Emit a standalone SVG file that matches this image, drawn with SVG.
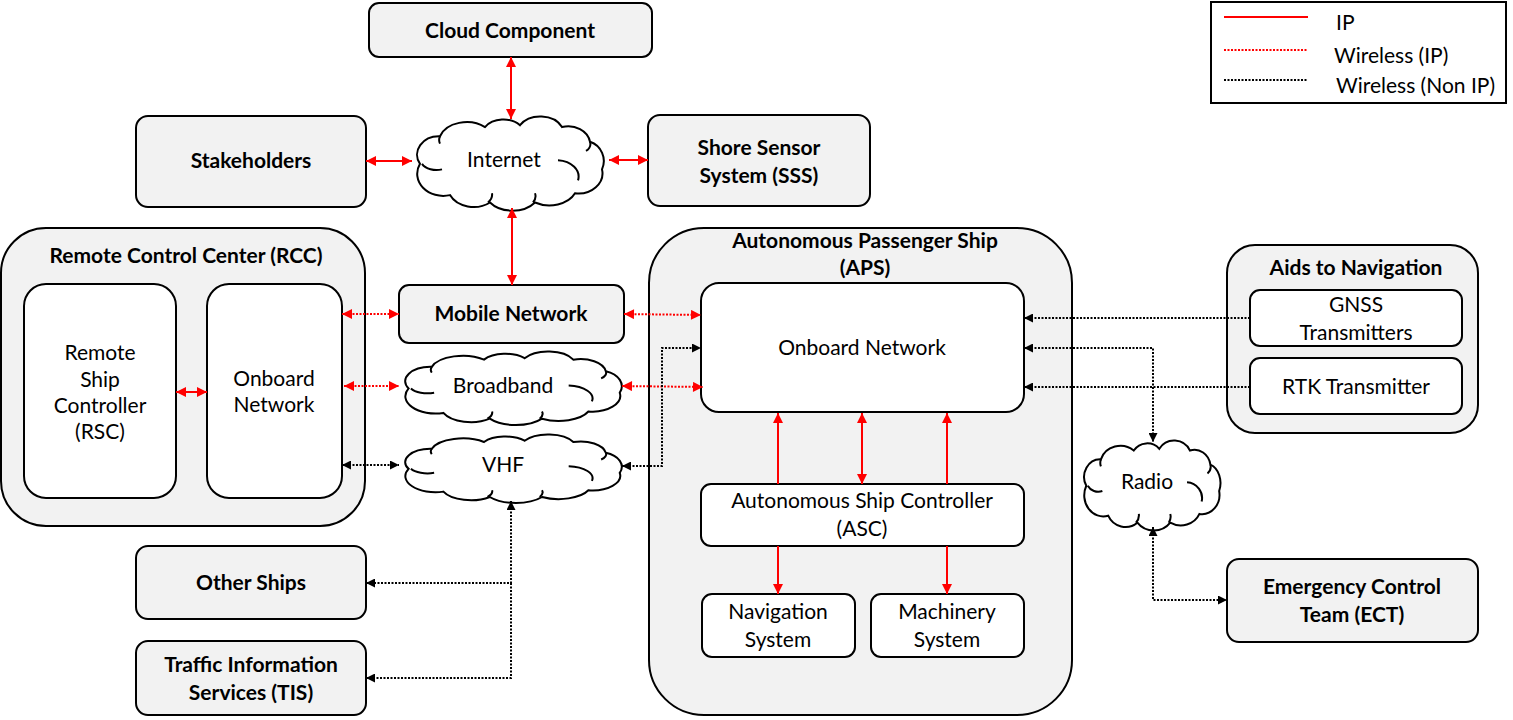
<svg xmlns="http://www.w3.org/2000/svg" xmlns:xlink="http://www.w3.org/1999/xlink" width="1513" height="720" viewBox="0 0 1513 720">
<style>
text { font-family: Lato, "Open Sans", "Liberation Sans", sans-serif; font-size: 21px; fill: #000; text-anchor: middle; }
.b { font-weight: bold; }
.lg { text-anchor: start; }
.outer { fill: #f2f2f2; stroke: #000; stroke-width: 2; }
.inner { fill: #fff; stroke: #000; stroke-width: 2; }
.cl { fill: #fff; stroke: #000; stroke-width: 2; }
.ip { fill: none; stroke: #ff0000; stroke-width: 2; }
.wip { fill: none; stroke: #ff0000; stroke-width: 2; stroke-dasharray: 2 1.5; }
.wn { fill: none; stroke: #000; stroke-width: 2; stroke-dasharray: 2 1.5; }
</style>
<defs>
<marker id="ar" viewBox="0 0 10 10" refX="10" refY="5" markerWidth="11" markerHeight="10" markerUnits="userSpaceOnUse" orient="auto-start-reverse">
<path d="M0,0 L10,5 L0,10 Z" fill="#ff0000"/>
</marker>
<marker id="ak" viewBox="0 0 10 10" refX="10" refY="5" markerWidth="10" markerHeight="9" markerUnits="userSpaceOnUse" orient="auto-start-reverse">
<path d="M0,0 L10,5 L0,10 Z" fill="#000"/>
</marker>
<g id="cloud">
<path vector-effect="non-scaling-stroke" d="M 10,52 A 22 20 0 0 1 30,22 A 28 22 0 0 1 75,12 A 22 18 0 0 1 110,10 A 24 20 0 0 1 152,12 A 22 20 0 0 1 180,28 A 20 22 0 0 1 192,58 A 24 22 0 0 1 165,84 A 28 22 0 0 1 125,94 A 28 22 0 0 1 80,94 A 26 22 0 0 1 40,86 A 26 24 0 0 1 10,52 Z"/>
<path vector-effect="non-scaling-stroke" fill="none" d="M 12,52 A 16 12 0 0 0 32,58 M 148,48 A 22 18 0 0 1 168,70 M 78,94 A 20 14 0 0 0 82,84 M 123,94 A 20 14 0 0 0 125,84 M 30,22 A 10 10 0 0 0 30,30 M 180,28 A 12 10 0 0 1 176,38"/>
</g>
</defs>

<g id="legend">
<rect x="1211" y="2" width="295" height="101" fill="#fff" stroke="#000" stroke-width="2"/>
<line class="ip" x1="1224" y1="17" x2="1308" y2="17"/>
<line class="wip" x1="1224" y1="50" x2="1308" y2="50"/>
<line class="wn" x1="1224" y1="80" x2="1308" y2="80"/>
<text class="lg" x="1336" y="30">IP</text>
<text class="lg" x="1334" y="63">Wireless (IP)</text>
<text class="lg" x="1336" y="93">Wireless (Non IP)</text>
</g>

<g id="cloud-component">
<rect class="outer" x="369" y="3" width="283" height="54" rx="10"/>
<text class="b" x="510" y="38">Cloud Component</text>
</g>
<g id="stakeholders">
<rect class="outer" x="136" y="116" width="230" height="91" rx="12"/>
<text class="b" x="251" y="168">Stakeholders</text>
</g>
<g id="sss">
<rect class="outer" x="648" y="115" width="222" height="91" rx="12"/>
<text class="b" x="759" y="155">Shore Sensor</text>
<text class="b" x="759" y="183">System (SSS)</text>
</g>
<g id="internet">
<use href="#cloud" class="cl" transform="translate(410,116) scale(1.0,0.92)"/>
<text x="504" y="167">Internet</text>
</g>
<g id="mobile-network">
<rect class="outer" x="399" y="285" width="225" height="58" rx="10"/>
<text class="b" x="511" y="321">Mobile Network</text>
</g>
<g id="broadband">
<use href="#cloud" class="cl" transform="translate(397,351) scale(1.16,0.72)"/>
<text x="503" y="393">Broadband</text>
</g>
<g id="vhf">
<use href="#cloud" class="cl" transform="translate(397,434) scale(1.16,0.67)"/>
<text x="503" y="472">VHF</text>
</g>

<g id="rcc">
<rect class="outer" x="1" y="228" width="364" height="298" rx="45"/>
<text class="b" x="186" y="263">Remote Control Center (RCC)</text>
</g>
<g id="rsc">
<rect class="inner" x="24" y="284" width="152" height="214" rx="22"/>
<text x="100" y="360">Remote</text>
<text x="100" y="387">Ship</text>
<text x="100" y="413">Controller</text>
<text x="100" y="439">(RSC)</text>
</g>
<g id="rcc-onboard">
<rect class="inner" x="207" y="284" width="135" height="214" rx="22"/>
<text x="274" y="386">Onboard</text>
<text x="274" y="412">Network</text>
</g>

<g id="aps">
<rect class="outer" x="649" y="228" width="423" height="487" rx="55"/>
<text class="b" x="865" y="248">Autonomous Passenger Ship</text>
<text class="b" x="865" y="275">(APS)</text>
</g>
<g id="aps-onboard">
<rect class="inner" x="701" y="283" width="323" height="129" rx="18"/>
<text x="862" y="355">Onboard Network</text>
</g>
<g id="asc">
<rect class="inner" x="701" y="484" width="323" height="62" rx="10"/>
<text x="862" y="508">Autonomous Ship Controller</text>
<text x="862" y="536">(ASC)</text>
</g>
<g id="navigation">
<rect class="inner" x="702" y="594" width="153" height="63" rx="10"/>
<text x="778" y="619">Navigation</text>
<text x="778" y="647">System</text>
</g>
<g id="machinery">
<rect class="inner" x="871" y="594" width="153" height="63" rx="10"/>
<text x="947" y="619">Machinery</text>
<text x="947" y="647">System</text>
</g>

<g id="aids">
<rect class="outer" x="1227" y="245" width="251" height="188" rx="28"/>
<text class="b" x="1356" y="275">Aids to Navigation</text>
</g>
<g id="gnss">
<rect class="inner" x="1250" y="290" width="212" height="56" rx="10"/>
<text x="1356" y="312">GNSS</text>
<text x="1356" y="340">Transmitters</text>
</g>
<g id="rtk">
<rect class="inner" x="1250" y="358" width="212" height="56" rx="10"/>
<text x="1356" y="394">RTK Transmitter</text>
</g>
<g id="radio">
<use href="#cloud" class="cl" transform="translate(1079,440) scale(0.73,0.88)"/>
<text x="1147" y="489">Radio</text>
</g>
<g id="ect">
<rect class="outer" x="1227" y="559" width="251" height="83" rx="12"/>
<text class="b" x="1352" y="594">Emergency Control</text>
<text class="b" x="1352" y="622">Team (ECT)</text>
</g>
<g id="other-ships">
<rect class="outer" x="136" y="546" width="230" height="73" rx="12"/>
<text class="b" x="251" y="590">Other Ships</text>
</g>
<g id="tis">
<rect class="outer" x="136" y="641" width="230" height="74" rx="12"/>
<text class="b" x="251" y="672">Traffic Information</text>
<text class="b" x="251" y="700">Services (TIS)</text>
</g>

<g id="connectors">
<line class="ip" x1="511" y1="57" x2="511" y2="119" marker-start="url(#ar)" marker-end="url(#ar)"/>
<line class="ip" x1="366" y1="161" x2="412" y2="161" marker-start="url(#ar)" marker-end="url(#ar)"/>
<line class="ip" x1="609" y1="160" x2="648" y2="160" marker-start="url(#ar)" marker-end="url(#ar)"/>
<line class="ip" x1="512" y1="208" x2="512" y2="285" marker-start="url(#ar)" marker-end="url(#ar)"/>
<line class="ip" x1="176" y1="392" x2="207" y2="392" marker-start="url(#ar)" marker-end="url(#ar)"/>

<line class="wip" x1="342" y1="314" x2="399" y2="314" marker-start="url(#ar)" marker-end="url(#ar)"/>
<line class="wip" x1="624" y1="314" x2="701" y2="315" marker-start="url(#ar)" marker-end="url(#ar)"/>
<line class="wip" x1="344" y1="386" x2="399" y2="386" marker-start="url(#ar)" marker-end="url(#ar)"/>
<line class="wip" x1="622" y1="386" x2="703" y2="387" marker-start="url(#ar)" marker-end="url(#ar)"/>

<line class="wn" x1="342" y1="465" x2="399" y2="465" marker-start="url(#ak)" marker-end="url(#ak)"/>
<polyline class="wn" points="622,466 662,466 662,348 701,348" marker-start="url(#ak)" marker-end="url(#ak)"/>
<polyline class="wn" points="511,501 511,583 366,583" marker-start="url(#ak)" marker-end="url(#ak)"/>
<polyline class="wn" points="511,583 511,678 366,678" marker-end="url(#ak)"/>

<line class="wn" x1="1250" y1="318" x2="1024" y2="318" marker-end="url(#ak)"/>
<line class="wn" x1="1250" y1="387" x2="1024" y2="387" marker-end="url(#ak)"/>
<polyline class="wn" points="1024,348 1153,348 1153,442" marker-start="url(#ak)" marker-end="url(#ak)"/>
<polyline class="wn" points="1153,527 1153,600 1227,600" marker-start="url(#ak)" marker-end="url(#ak)"/>

<line class="ip" x1="778" y1="484" x2="778" y2="413" marker-end="url(#ar)"/>
<line class="ip" x1="862" y1="413" x2="862" y2="484" marker-start="url(#ar)" marker-end="url(#ar)"/>
<line class="ip" x1="947" y1="484" x2="947" y2="413" marker-end="url(#ar)"/>
<line class="ip" x1="778" y1="546" x2="778" y2="594" marker-end="url(#ar)"/>
<line class="ip" x1="947" y1="546" x2="947" y2="594" marker-end="url(#ar)"/>
</g>
</svg>
